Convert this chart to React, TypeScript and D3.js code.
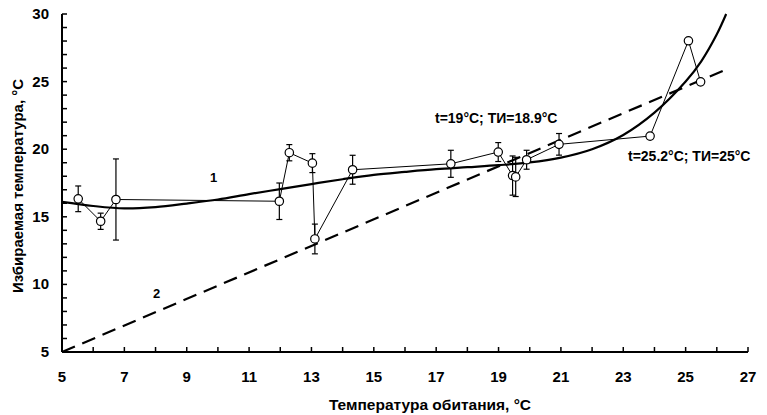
import * as d3 from "d3";
import { useEffect, useRef } from "react";

// observed points: habitat temperature, preferred temperature, error
const obsX = [5.52, 6.24, 6.73, 11.97, 12.29, 13.03, 13.11, 14.32, 17.47, 18.99, 19.45, 19.55, 19.9, 20.94, 23.86, 25.09, 25.48];
const obsY = [16.33, 14.67, 16.28, 16.15, 19.74, 18.97, 13.36, 18.48, 18.92, 19.79, 18.05, 17.95, 19.22, 20.36, 20.97, 28.02, 24.98];
const obsErr = [0.95, 0.6, 3.0, 1.35, 0.6, 0.7, 1.1, 1.07, 1.0, 0.7, 1.45, 1.45, 0.7, 0.8, 0, 0, 0];

// curve 1 (fitted)
const fitX = [5, 6, 7, 8, 9, 10, 11, 12, 13, 14, 15, 16, 17, 18, 19, 20, 21, 22, 23, 24, 25, 25.5, 26, 26.3];
const fitY = [16.1, 15.8, 15.62, 15.72, 15.98, 16.28, 16.68, 17.05, 17.42, 17.78, 18.1, 18.32, 18.52, 18.67, 18.82, 19.02, 19.38, 20.0, 21.05, 22.7, 25.0, 26.5, 28.5, 30.0];

// line 2 (dashed)
const line2X = [5, 26.3];
const line2Y = [5, 25.9];

const xTicks = [5, 7, 9, 11, 13, 15, 17, 19, 21, 23, 25, 27];
const yTicks = [5, 10, 15, 20, 25, 30];

const App = () => {
  const svgRef = useRef<SVGSVGElement>(null);

  useEffect(() => {
    const width = 767;
    const height = 415;
    const margin = { top: 14, right: 19, bottom: 63, left: 62 };
    const font = "'Liberation Sans', Arial, sans-serif";

    const svg = d3.select(svgRef.current);
    svg.selectAll("*").remove();

    const x = d3.scaleLinear().domain([5, 27]).range([margin.left, width - margin.right]);
    const y = d3.scaleLinear().domain([5, 30]).range([height - margin.bottom, margin.top]);

    // axes
    svg.append("line")
      .attr("x1", x(5)).attr("x2", x(27))
      .attr("y1", y(5)).attr("y2", y(5))
      .attr("stroke", "#000").attr("stroke-width", 2);
    svg.append("line")
      .attr("x1", x(5)).attr("x2", x(5))
      .attr("y1", y(5)).attr("y2", y(30))
      .attr("stroke", "#000").attr("stroke-width", 2);

    svg.append("g").selectAll("line")
      .data(d3.range(6, 28))
      .join("line")
      .attr("x1", (d) => x(d)).attr("x2", (d) => x(d))
      .attr("y1", y(5)).attr("y2", y(5) - 5)
      .attr("stroke", "#000").attr("stroke-width", 1.5);

    svg.append("g").selectAll("line")
      .data(d3.range(6, 31))
      .join("line")
      .attr("x1", x(5)).attr("x2", x(5) + 5)
      .attr("y1", (d) => y(d)).attr("y2", (d) => y(d))
      .attr("stroke", "#000").attr("stroke-width", 1.5);

    svg.append("g").selectAll("text")
      .data(xTicks)
      .join("text")
      .attr("x", (d) => x(d))
      .attr("y", y(5) + 30)
      .attr("text-anchor", "middle")
      .attr("font-family", font).attr("font-weight", "bold").attr("font-size", 15)
      .text((d) => d);

    svg.append("g").selectAll("text")
      .data(yTicks)
      .join("text")
      .attr("x", x(5) - 13)
      .attr("y", (d) => y(d) + 5)
      .attr("text-anchor", "end")
      .attr("font-family", font).attr("font-weight", "bold").attr("font-size", 15)
      .text((d) => d);

    svg.append("text")
      .attr("x", 430).attr("y", 410)
      .attr("text-anchor", "middle")
      .attr("font-family", font).attr("font-weight", "bold").attr("font-size", 15.5)
      .text("Температура обитания, °С");

    svg.append("text")
      .attr("transform", `translate(23,${(y(5) + y(30)) / 2 + 3}) rotate(-90)`)
      .attr("text-anchor", "middle")
      .attr("font-family", font).attr("font-weight", "bold").attr("font-size", 15)
      .text("Избираемая температура, °С");

    // dashed line 2
    const line2 = d3.line<number>().x((d) => x(line2X[d])).y((d) => y(line2Y[d]));
    svg.append("path")
      .attr("d", line2(d3.range(line2X.length)))
      .attr("fill", "none").attr("stroke", "#000")
      .attr("stroke-width", 2.2).attr("stroke-dasharray", "14,8");

    // fitted curve 1
    const fit = d3.line<number>()
      .x((d) => x(fitX[d])).y((d) => y(fitY[d]))
      .curve(d3.curveCatmullRom);
    svg.append("path")
      .attr("d", fit(d3.range(fitX.length)))
      .attr("fill", "none").attr("stroke", "#000").attr("stroke-width", 2.2);

    // observed line
    const idx = d3.range(obsX.length);
    const obs = d3.line<number>().x((d) => x(obsX[d])).y((d) => y(obsY[d]));
    svg.append("path")
      .attr("d", obs(idx))
      .attr("fill", "none").attr("stroke", "#000").attr("stroke-width", 1);

    // error bars
    const eb = svg.append("g").attr("stroke", "#000").attr("stroke-width", 1.2);
    idx.filter((i) => obsErr[i] > 0).forEach((i) => {
      const cx = x(obsX[i]);
      const y1 = y(obsY[i] + obsErr[i]);
      const y2 = y(obsY[i] - obsErr[i]);
      eb.append("line").attr("x1", cx).attr("x2", cx).attr("y1", y1).attr("y2", y2);
      eb.append("line").attr("x1", cx - 3).attr("x2", cx + 3).attr("y1", y1).attr("y2", y1);
      eb.append("line").attr("x1", cx - 3).attr("x2", cx + 3).attr("y1", y2).attr("y2", y2);
    });

    svg.append("g").selectAll("circle")
      .data(idx)
      .join("circle")
      .attr("cx", (d) => x(obsX[d])).attr("cy", (d) => y(obsY[d]))
      .attr("r", 4.2)
      .attr("fill", "#fff").attr("stroke", "#000").attr("stroke-width", 1.2);

    // annotations
    const ann = (tx: number, ty: number, s: string, size: number) =>
      svg.append("text")
        .attr("x", tx).attr("y", ty)
        .attr("font-family", font).attr("font-weight", "bold").attr("font-size", size)
        .text(s);
    ann(210, 182, "1", 13);
    ann(153, 298, "2", 13);
    ann(435, 123, "t=19°C; ТИ=18.9°C", 14);
    ann(628, 161, "t=25.2°C; ТИ=25°C", 14);
  }, []);

  return (
    <svg
      ref={svgRef}
      width={767}
      height={415}
      style={{ position: "absolute", left: 0, top: 0, background: "#fff" }}
    ></svg>
  );
};

export default App;
